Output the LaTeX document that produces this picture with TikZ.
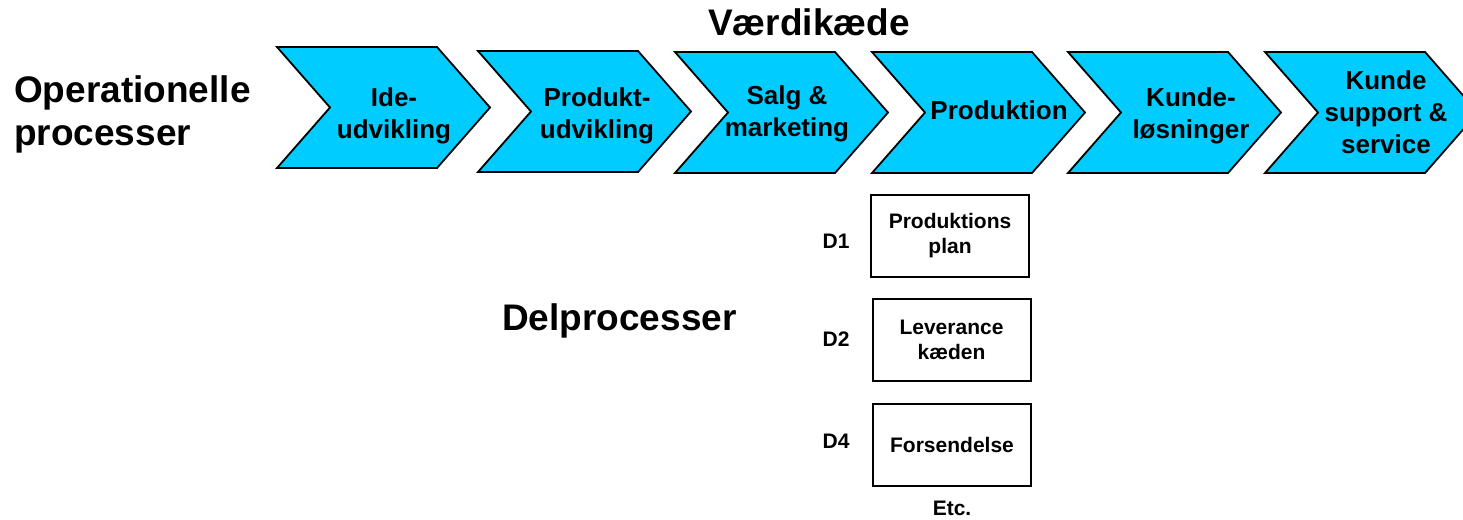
\documentclass[tikz,border=0pt]{standalone}
\usepackage{fontspec}
\setmainfont{Liberation Sans}
\begin{document}
\begin{tikzpicture}[x=1pt,y=-1pt,
  chevfill/.style={fill={rgb,255:red,0;green,204;blue,255},draw=black,line width=1.8pt,line join=miter},
  title/.style={font=\fontsize{37}{43}\selectfont\bfseries,inner sep=0pt},
  steptext/.style={font=\fontsize{26}{32}\selectfont\bfseries,align=center,inner sep=0pt},
  subbox/.style={draw=black,line width=2pt,minimum width=158pt,minimum height=82pt,inner sep=0pt,
                 font=\fontsize{21}{25}\selectfont\bfseries,align=center},
  sublabel/.style={font=\fontsize{21}{25}\selectfont\bfseries,inner sep=0pt},
  chevron/.pic={\path[chevfill] (0,0) -- (160,0) -- (213,60.5) -- (160,121) -- (0,121) -- (53,60.5) -- cycle;}
]
\useasboundingbox (0,0) rectangle (1463,519);
\clip (0,0) rectangle (1463,519);

% value chain arrows
\pic at (277,47) {chevron};
\pic at (478,51) {chevron};
\pic at (675,52) {chevron};
\pic at (872,52) {chevron};
\pic at (1068,52) {chevron};
\pic at (1265,52) {chevron};

% headings
\node[title] (chain) at (809,22) {Værdikæde};
\node[title,align=left,anchor=west] (oper) at (14,114) {Operationelle\\processer};
\node[title,anchor=west] (sub) at (502,321) {Delprocesser};

% step labels
\node[steptext] (s1) at (394,116) {Ide-\\udvikling};
\node[steptext] (s2) at (597,116) {Produkt-\\udvikling};
\node[steptext] (s3) at (787,114) {Salg \&\\marketing};
\node[steptext] (s4) at (999,110) {Produktion};
\node[steptext] (s5) at (1191,116) {Kunde-\\løsninger};
\node[steptext] (s6) at (1386,112) {Kunde\\support \&\\service};

% sub-process boxes
\node[subbox] (d1) at (950,236) {Produktions\\plan};
\node[subbox] (d2) at (951.5,340) {Leverance\\kæden};
\node[subbox] (d4) at (952,444.5) {Forsendelse};

\node[sublabel] (l1) at (836,241) {D1};
\node[sublabel] (l2) at (836,339) {D2};
\node[sublabel] (l4) at (836,441) {D4};
\node[sublabel] (etc) at (952,508) {Etc.};
\end{tikzpicture}
\end{document}
